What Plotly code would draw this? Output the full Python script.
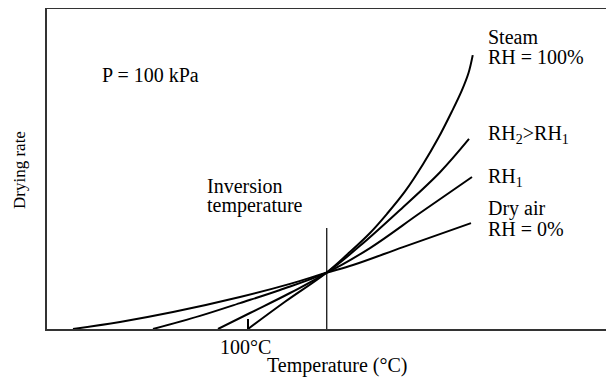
import plotly.graph_objects as go

# Temperature (arbitrary schematic units, 100 = 100 °C) and drying rate (arbitrary units)
dry_T = [30, 48.8, 70, 96.8, 116.8, 131.4, 142, 162, 189.2]
dry_R = [0, 0.22, 0.53, 1.0, 1.41, 1.76, 2.0, 2.56, 3.31]

rh1_T = [62, 80.8, 96.8, 112.8, 131.4, 148.8, 168.8, 189.6]
rh1_R = [0, 0.41, 0.81, 1.22, 1.76, 2.53, 3.625, 4.75]

rh2_T = [88, 100.8, 116.8, 131.4, 144.8, 160.8, 176.8, 188.4]
rh2_R = [0, 0.5, 1.125, 1.76, 2.6, 3.72, 4.9, 5.94]

steam_T = [100, 114.8, 131.4, 140, 148.8, 155.6, 162.8, 170, 176, 181.5, 185.5, 188.2, 189.9]
steam_R = [0, 0.85, 1.76, 2.35, 3.0, 3.6, 4.3, 5.15, 5.95, 6.79, 7.45, 8.0, 8.56]

inversion_T = 131.5
inversion_top = 3.16
boiling_T = 100
boiling_tick = 0.31

FONT = "Liberation Serif"

fig = go.Figure()
for T, R in [(dry_T, dry_R), (rh1_T, rh1_R), (rh2_T, rh2_R), (steam_T, steam_R)]:
    fig.add_trace(go.Scatter(x=T, y=R, mode="lines",
                             line=dict(color="black", width=2, shape="spline", smoothing=1),
                             showlegend=False, hoverinfo="skip"))

fig.add_trace(go.Scatter(x=[inversion_T, inversion_T], y=[0, inversion_top], mode="lines",
                         line=dict(color="black", width=1.2), showlegend=False, hoverinfo="skip"))
fig.add_trace(go.Scatter(x=[boiling_T, boiling_T], y=[0, boiling_tick], mode="lines",
                         line=dict(color="black", width=2), showlegend=False, hoverinfo="skip"))

def txt(x, y, s, size=20, xanchor="left", angle=0, xref="x", yref="y"):
    fig.add_annotation(x=x, y=y, xref=xref, yref=yref, text=s, showarrow=False,
                       xanchor=xanchor, yanchor="middle", textangle=angle,
                       font=dict(family=FONT, size=size, color="black"))

txt(40.8, 7.94, "P = 100 kPa")
txt(82.8, 4.47, "Inversion")
txt(82.8, 3.875, "temperature")
txt(195.2, 9.125, "Steam")
txt(195.2, 8.5, "RH = 100%")
txt(195.2, 6.09, "RH<sub>2</sub>>RH<sub>1</sub>")
txt(195.2, 4.75, "RH<sub>1</sub>")
txt(195.2, 3.78, "Dry air")
txt(195.2, 3.125, "RH = 0%")
txt(99, -0.05625, "100°C", xanchor="center", yref="paper")
txt(135.6, -0.1156, "Temperature (°C)", xanchor="center", yref="paper")
txt(-0.0476, 4.97, "Drying rate", size=17, xanchor="center", angle=-90, xref="paper")

# page body has an 8px margin; figure is sized so the plot area lands where the reference has it
fig.update_layout(
    width=606, height=370,
    margin=dict(l=39, r=0, t=1, b=49),
    paper_bgcolor="white", plot_bgcolor="white",
    xaxis=dict(range=[19.6, 246.4], showline=True, linecolor="#333", linewidth=2, mirror=True,
               showticklabels=False, ticks="", showgrid=False, zeroline=False),
    yaxis=dict(range=[0, 10], showline=True, linecolor="#333", linewidth=2,
               showticklabels=False, ticks="", showgrid=False, zeroline=False),
)

fig.write_html("out.html")
